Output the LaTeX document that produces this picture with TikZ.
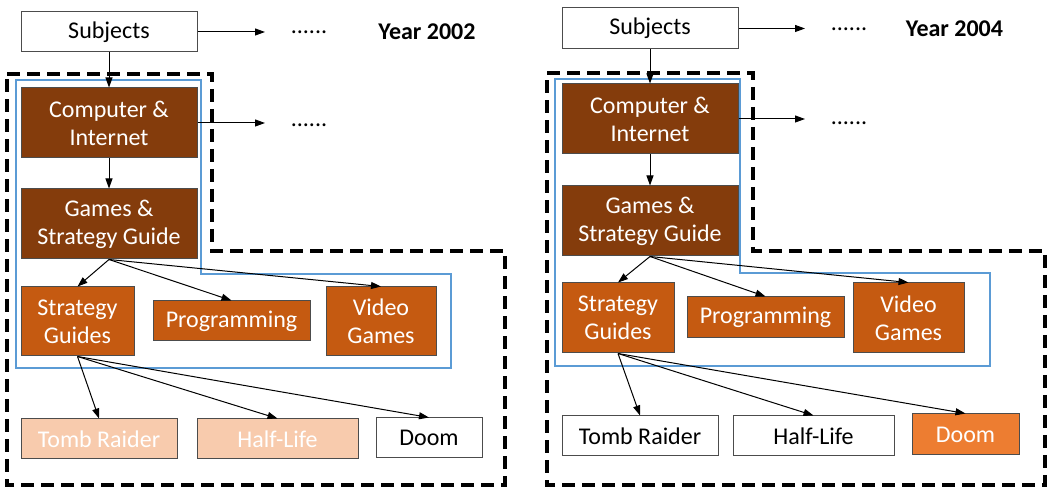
\documentclass[tikz,border=0pt]{standalone}
\usepackage{fontspec}
\setmainfont{Carlito}
\usetikzlibrary{arrows.meta}
\definecolor{darkbrown}{HTML}{843C0C}
\definecolor{rust}{HTML}{C55A11}
\definecolor{peach}{HTML}{F8CBAD}
\definecolor{flame}{HTML}{ED7D31}
\definecolor{frameblue}{HTML}{5B9BD5}

\begin{document}
\begin{tikzpicture}[x=0.5pt,y=-0.5pt,
        boxsize/.style 2 args={minimum width=#1*0.5pt,minimum height=#2*0.5pt},
        catbox/.style={draw=black!70,line width=0.5pt,inner sep=0pt,align=center,font=\fontsize{12}{14}\selectfont},
        topbox/.style={catbox,fill=darkbrown,text=white},
        midbox/.style={catbox,fill=rust,text=white},
        whitebox/.style={catbox,fill=white},
        paleleaf/.style={catbox,fill=peach,text=white},
        hotleaf/.style={catbox,fill=flame,text=white},
        label/.style={font=\fontsize{12}{14}\selectfont},
        arr/.style={-{Triangle[length=5pt,width=3.5pt]},line width=0.5pt},
        outerline/.style={line width=1.9pt,dash pattern=on 6.5pt off 3.5pt},
        innerline/.style={draw=frameblue,line width=1pt}]
        \useasboundingbox (0,0) rectangle (1053,490);

        % year 2002
        \draw[outerline] (7,74) -- (212,74) -- (212,251) -- (505,251) -- (505,485) -- (7,485) -- cycle;
        \draw[innerline] (16,80) -- (201,80) -- (201,274) -- (451,274) -- (451,368) -- (16,368) -- cycle;

        \node[whitebox,boxsize={176}{40}] (subjA) at (109,32) {Subjects};
        \node[topbox,boxsize={176}{70}] (compA) at (109,123) {Computer \&\\Internet};
        \node[topbox,boxsize={176}{70}] (gameA) at (109,224) {Games \&\\Strategy Guide};
        % sec line
        \node[midbox,boxsize={113}{69}] (stratA) at (77.5,321.5) {Strategy\\Guides};
        \node[midbox,boxsize={157}{40}] (progA) at (231.5,321) {Programming};
        \node[midbox,boxsize={110}{69}] (videoA) at (381,321.5) {Video\\Games};
        % bottom line
        \node[paleleaf,boxsize={156}{40}] (tombA) at (99,439) {Tomb Raider};
        \node[paleleaf,boxsize={161}{40}] (halfA) at (277.5,439) {Half-Life};
        \node[whitebox,boxsize={106}{40}] (doomA) at (429,438) {Doom};

        \node[label] (dotsA) at (309,32) {......};
        \node[label] (moreA) at (309,125) {......};
        \node[label,font=\fontsize{12}{14}\selectfont\bfseries] (yearA) at (427,32) {Year 2002};
        \coordinate (endA) at (265,32);
        \coordinate (endB) at (265,123);

        \draw[arr] (subjA.east) -- (endA);
        \draw[arr] (compA.east) -- (endB);
        \draw[arr] (subjA) -- (compA);
        \draw[arr] (compA) -- (gameA);
        \draw[arr] (gameA.south) -- (stratA.north);
        \draw[arr] (gameA.south) -- (progA.north);
        \draw[arr] (gameA.south) -- (videoA.north);
        \draw[arr] (stratA.south) -- (tombA.north);
        \draw[arr] (stratA.south) -- (halfA.north);
        \draw[arr] (stratA.south) -- (doomA.north);

        % year 2004
        \draw[outerline] (547,73) -- (753,73) -- (753,251) -- (1045,251) -- (1045,485) -- (547,485) -- cycle;
        \draw[innerline] (555,79) -- (740,79) -- (740,273) -- (990,273) -- (990,366) -- (555,366) -- cycle;

        \node[whitebox,boxsize={176}{41}] (subjB) at (650,28.5) {Subjects};
        \node[topbox,boxsize={176}{70}] (compB) at (650,119) {Computer \&\\Internet};
        \node[topbox,boxsize={176}{70}] (gameB) at (650,221) {Games \&\\Strategy Guide};
        % sec line
        \node[midbox,boxsize={112}{70}] (stratB) at (618,318) {Strategy\\Guides};
        \node[midbox,boxsize={157}{41}] (progB) at (765.5,317.5) {Programming};
        \node[midbox,boxsize={111}{70}] (videoB) at (908.5,318) {Video\\Games};
        % bottom line
        \node[whitebox,boxsize={156}{40}] (tombB) at (640,436) {Tomb Raider};
        \node[whitebox,boxsize={161}{40}] (halfB) at (813.5,436) {Half-Life};
        \node[hotleaf,boxsize={107}{41}] (doomB) at (965.5,434.5) {Doom};

        \node[label] (dotsB) at (849,29) {......};
        \node[label] (moreB) at (849,123) {......};
        \node[label,font=\fontsize{12}{14}\selectfont\bfseries] (yearB) at (954.5,29) {Year 2004};
        \coordinate (endC) at (805,28.5);
        \coordinate (endD) at (805,119);

        \draw[arr] (subjB.east) -- (endC);
        \draw[arr] (compB.east) -- (endD);
        \draw[arr] (subjB) -- (compB);
        \draw[arr] (compB) -- (gameB);
        \draw[arr] (gameB.south) -- (stratB.north);
        \draw[arr] (gameB.south) -- (progB.north);
        \draw[arr] (gameB.south) -- (videoB.north);
        \draw[arr] (stratB.south) -- (tombB.north);
        \draw[arr] (stratB.south) -- (halfB.north);
        \draw[arr] (stratB.south) -- (doomB.north);
    \end{tikzpicture}
\end{document}
